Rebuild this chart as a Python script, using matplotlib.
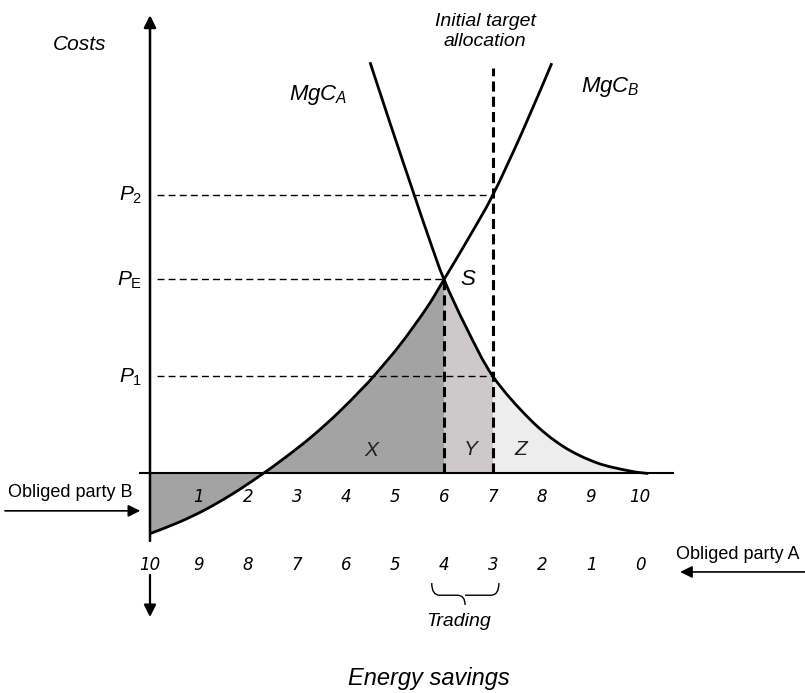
import numpy as np
import matplotlib.pyplot as plt
from matplotlib.path import Path
from matplotlib.patches import PathPatch

plt.rcParams['font.family'] = ['Liberation Sans', 'DejaVu Sans']
plt.rcParams['mathtext.fontset'] = 'custom'
plt.rcParams['mathtext.rm'] = 'Liberation Sans'
plt.rcParams['mathtext.it'] = 'Liberation Sans:italic'

# ----- values -----
# marginal cost of party B (rising)
mgc_b_x = [0.00, 0.58, 1.12, 1.67, 2.21, 2.76, 3.30, 3.84, 4.32, 4.56, 5.10, 5.65,
           6.00, 6.50, 7.00, 7.60, 8.20]
mgc_b_y = [-1.24, -1.01, -0.75, -0.43, -0.07, 0.33, 0.76, 1.25, 1.74, 2.00, 2.65, 3.42,
           4.00, 4.85, 5.75, 7.05, 8.46]
# marginal cost of party A (falling)
mgc_a_x = [4.49, 4.93, 5.39, 5.68, 6.00, 6.46, 7.00, 7.76, 8.43, 9.12, 9.80, 10.17]
mgc_a_y = [8.48, 7.13, 5.75, 4.89, 4.00, 3.00, 2.00, 1.11, 0.56, 0.22, 0.05, 0.00]

price_labels = [r'$P_{\mathrm{2}}$', r'$P_{\mathrm{E}}$', r'$P_{\mathrm{1}}$']
price_values = [5.75, 4.00, 2.00]
price_ends = [7.0, 6.0, 7.0]

equilibrium_x = 6.0
target_x = 7.0
target_top = 8.36

savings_b = [1, 2, 3, 4, 5, 6, 7, 8, 9, 10]
savings_a = [10, 9, 8, 7, 6, 5, 4, 3, 2, 1, 0]


def smooth_path(xs, ys, lo, hi):
    # bezier segments through the read points (lo..hi), tangents from neighbours
    pts = np.column_stack([xs, ys])
    n = len(pts)
    verts = [pts[lo]]
    codes = [Path.MOVETO]
    for i in range(lo, hi):
        p_prev = pts[max(i - 1, 0)]
        p0, p1 = pts[i], pts[i + 1]
        p_next = pts[min(i + 2, n - 1)]
        verts += [p0 + (p1 - p_prev) / 6, p1 - (p_next - p0) / 6, p1]
        codes += [Path.CURVE4] * 3
    return verts, codes


def area_under(xs, ys, lo, hi, color):
    verts, codes = smooth_path(xs, ys, lo, hi)
    verts += [(xs[hi], 0), (xs[lo], 0), (xs[lo], 0)]
    codes += [Path.LINETO, Path.LINETO, Path.CLOSEPOLY]
    ax.add_patch(PathPatch(Path(verts, codes), facecolor=color, lw=0, zorder=1))


fig = plt.figure(figsize=(8.05, 6.93), dpi=100)
ax = fig.add_axes([0, 0, 1, 1])
ax.set_xlim(-3.061, 13.367)
ax.set_ylim(-4.526, 9.763)
ax.axis('off')

ib_eq = mgc_b_x.index(equilibrium_x)
ia_eq = mgc_a_x.index(equilibrium_x)
ia_t = mgc_a_x.index(target_x)

# shaded areas X, Y, Z
area_under(mgc_b_x, mgc_b_y, 0, ib_eq, '#a3a3a3')
area_under(mgc_a_x, mgc_a_y, ia_eq, ia_t, '#cdc9cb')
area_under(mgc_a_x, mgc_a_y, ia_t, len(mgc_a_x) - 1, '#ededed')

# curves
for xs, ys in [(mgc_b_x, mgc_b_y), (mgc_a_x, mgc_a_y)]:
    verts, codes = smooth_path(xs, ys, 0, len(xs) - 1)
    ax.add_patch(PathPatch(Path(verts, codes), fill=False, lw=2, edgecolor='black', zorder=4))

# price levels
for lab, val, end in zip(price_labels, price_values, price_ends):
    ax.plot([0.14, end], [val, val], color='black', lw=1, dashes=(5, 3), zorder=3)
    ax.text(-0.16, val - 0.02, lab, fontsize=15, ha='right', va='center')

# vertical dashed lines
ax.plot([target_x, target_x], [0, target_top], color='black', lw=2.2, dashes=(3.3, 1.7), zorder=3)
ax.plot([equilibrium_x, equilibrium_x], [0, price_values[1]], color='black', lw=2.2,
        dashes=(3.3, 1.7), zorder=3)

# axes with arrows
arrow = dict(arrowstyle='-|>,head_length=0.6,head_width=0.3', color='black',
             shrinkA=0, shrinkB=0, mutation_scale=12)
ax.annotate('', xy=(0, 9.45), xytext=(0, -1.39), arrowprops=dict(arrow, lw=1.8))
ax.annotate('', xy=(0, -2.96), xytext=(0, -2.09), arrowprops=dict(arrow, lw=1.6))
ax.plot([-0.2, 10.67], [0, 0], color='black', lw=1.5, zorder=5)

# party arrows
ax.annotate('', xy=(-0.2, -0.77), xytext=(-2.96, -0.77), arrowprops=dict(arrow, lw=1.2))
ax.annotate('', xy=(10.82, -2.03), xytext=(13.37, -2.03), arrowprops=dict(arrow, lw=1.2))
ax.text(-1.63, -0.40, 'Obliged party B', fontsize=13, ha='center', va='center')
ax.text(12.0, -1.66, 'Obliged party A', fontsize=13, ha='center', va='center')

# tick numbers
for i, s in enumerate(savings_b):
    ax.text(i + 1, -0.48, str(s), fontsize=12, family='DejaVu Sans', style='italic',
            ha='center', va='center')
for i, s in enumerate(savings_a):
    ax.text(i, -1.89, str(s), fontsize=12, family='DejaVu Sans', style='italic',
            ha='center', va='center')

# labels
ax.text(-1.43, 8.84, 'Costs', fontsize=15, style='italic', ha='center', va='center')
ax.text(3.43, 7.80, r'$MgC_A$', fontsize=16, ha='center', va='center')
ax.text(9.39, 7.97, r'$MgC_B$', fontsize=16, ha='center', va='center')
ax.text(6.84, 9.11, 'Initial target\nallocation', fontsize=14, style='italic',
        ha='center', va='center', linespacing=1.2)
ax.text(6.49, 4.01, 'S', fontsize=16, style='italic', ha='center', va='center')
ax.text(4.51, 0.48, 'X', fontsize=15, style='italic', ha='center', va='center', color='#222222', zorder=6)
ax.text(6.55, 0.50, 'Y', fontsize=15, style='italic', ha='center', va='center', color='#222222', zorder=6)
ax.text(7.57, 0.50, 'Z', fontsize=15, style='italic', ha='center', va='center', color='#222222', zorder=6)
ax.text(6.29, -3.06, 'Trading', fontsize=14, style='italic', ha='center', va='center')
ax.text(5.69, -4.22, 'Energy savings', fontsize=17, style='italic', ha='center', va='center')

# brace under the traded units
x0, x1, xc = 5.75, 7.12, 6.43
top, mid, tip = -2.26, -2.51, -2.71
d = 0.16
verts = [(x0, top), (x0, mid), (x0 + d, mid), (xc - d, mid), (xc, mid), (xc, tip),
         (xc, mid), (xc + d, mid), (x1 - d, mid), (x1, mid), (x1, top)]
codes = [Path.MOVETO, Path.CURVE3, Path.CURVE3, Path.LINETO, Path.CURVE3, Path.CURVE3,
         Path.MOVETO, Path.CURVE3, Path.LINETO, Path.CURVE3, Path.CURVE3]
ax.add_patch(PathPatch(Path(verts, codes), fill=False, lw=1, color='black'))

fig.savefig('out.png', dpi=100)
